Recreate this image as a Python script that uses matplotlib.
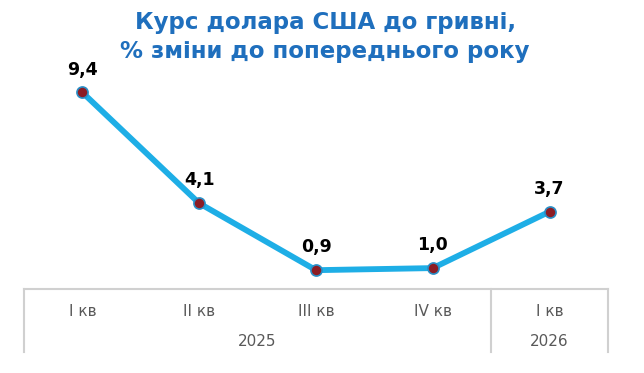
import numpy as np
import matplotlib.pyplot as plt
import matplotlib.transforms as mtransforms

quarters = ['I кв', 'II кв', 'III кв', 'IV кв', 'I кв']
years = ['2025', '2026']
year_span = [(0, 4), (4, 5)]
values = [9.4, 4.1, 0.9, 1.0, 3.7]
value_labels = ['9,4', '4,1', '0,9', '1,0', '3,7']

fig = plt.figure(figsize=(6.44, 3.73), dpi=100)
ax = fig.add_axes([24/644, 1 - 289/373, 584/644, 230/373])

x = np.arange(len(values)) + 0.5
ax.plot(x, values, color='#1eaee6', linewidth=4.2, solid_capstyle='round', zorder=2)
ax.plot(x, values, linestyle='none', marker='o', markersize=8,
        markerfacecolor='#8c1c24', markeredgecolor='#2a8fc7', markeredgewidth=1.2, zorder=3)

for xi, v, lab in zip(x, values, value_labels):
    ax.annotate(lab, (xi, v), xytext=(0, 10), textcoords='offset points',
                ha='center', va='bottom', fontsize=12.5, fontweight='bold', color='black')

ax.set_xlim(0, 5)
ax.set_ylim(0, 11)
ax.set_yticks([])
ax.set_xticks(x)
ax.set_xticklabels(quarters, fontsize=11, color='#595959')
ax.tick_params(axis='x', length=0, pad=11)
for s in ['top', 'left', 'right']:
    ax.spines[s].set_visible(False)
ax.spines['bottom'].set_color('#d0d0d0')
ax.spines['bottom'].set_linewidth(1.5)

# table-like category axis
trans = mtransforms.blended_transform_factory(ax.transData, ax.transAxes)
for xv in [0, 4, 5]:
    ax.plot([xv, xv], [0, -0.275], color='#d0d0d0', linewidth=1.5,
            transform=trans, clip_on=False)
for yr, (a, b) in zip(years, year_span):
    ax.text((a + b) / 2, -0.23, yr, transform=trans, ha='center', va='center',
            fontsize=11, color='#595959')

fig.text(0.505, 1 - 37/373, 'Курс долара США до гривні,\n% зміни до попереднього року',
         ha='center', va='center', fontsize=16.5, fontweight='bold', color='#1f6fbd',
         linespacing=1.35)

fig.savefig('out.png', dpi=100)
